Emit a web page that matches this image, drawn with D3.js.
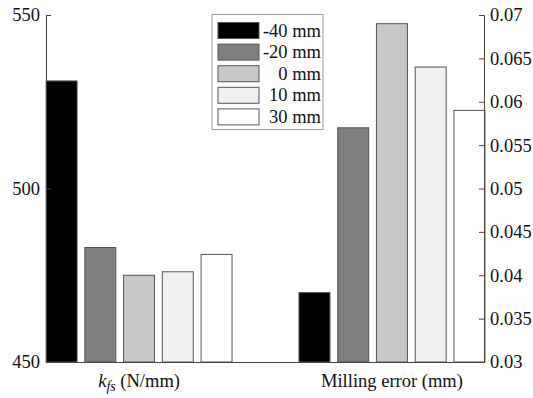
<!DOCTYPE html>
<html>
<head>
<meta charset="utf-8">
<script src="https://cdn.jsdelivr.net/npm/d3@7"></script>
<style>
body { margin: 0; background: #fff; }
text { font-family: "Liberation Serif", "Times New Roman", serif; }
</style>
</head>
<body>
<script>
var w = 533;
var h = 398;

// data
var offsets = ["-40 mm", "-20 mm", "0 mm", "10 mm", "30 mm"];
var fills = ["#000000", "#808080", "#c8c8c8", "#f0f0f0", "#ffffff"];
var kfsValues = [531, 483, 475, 476, 481];
var errorValues = [0.038, 0.057, 0.069, 0.064, 0.059];
var groupLabels = ["k_fs (N/mm)", "Milling error (mm)"];
var leftTicks = [450, 500, 550];
var rightTicks = [0.03, 0.035, 0.04, 0.045, 0.05, 0.055, 0.06, 0.065, 0.07];

var mLeft = 46, mRight = 484, mTop = 15, mBottom = 362;
var fs = "18.5px";

var svg = d3.select("body")
            .append("svg")
              .attr("width", w)
              .attr("height", h);

var x = d3.scaleLinear().domain([0.632, 2.364]).range([mLeft, mRight]);
var yL = d3.scaleLinear().domain([450, 550]).range([mBottom, mTop]);
var yR = d3.scaleLinear().domain([0.03, 0.07]).range([mBottom, mTop]);

var step = 0.1532;
var bw = 0.1225;

function barX(group, i) {
  return x(group + (i - 2) * step - bw / 2);
}
var bwPx = x(1 + bw) - x(1);

// left group
svg.selectAll(".kfs")
  .data(kfsValues)
  .enter()
  .append("rect")
    .attr("class", "kfs")
    .attr("x", function(d, i) { return barX(1, i); })
    .attr("y", function(d) { return yL(d); })
    .attr("width", bwPx)
    .attr("height", function(d) { return yL(450) - yL(d); })
    .style("fill", function(d, i) { return fills[i]; })
    .style("stroke", "#555")
    .style("stroke-width", 1);

// right group
svg.selectAll(".err")
  .data(errorValues)
  .enter()
  .append("rect")
    .attr("class", "err")
    .attr("x", function(d, i) { return barX(2, i); })
    .attr("y", function(d) { return yR(d); })
    .attr("width", bwPx)
    .attr("height", function(d) { return yR(0.03) - yR(d); })
    .style("fill", function(d, i) { return fills[i]; })
    .style("stroke", "#555")
    .style("stroke-width", 1);

// axes
var axisL = d3.axisLeft(yL).tickValues(leftTicks).tickSize(-5).tickPadding(6);
var axisR = d3.axisRight(yR).tickValues(rightTicks).tickSize(-5).tickPadding(6)
              .tickFormat(function(d) { return String(+d.toFixed(3)); });

var gL = svg.append("g").attr("transform", "translate(" + mLeft + ",0)").call(axisL);
var gR = svg.append("g").attr("transform", "translate(" + mRight + ",0)").call(axisR);

[gL, gR].forEach(function(g) {
  g.select(".domain").attr("stroke", "#444");
  g.selectAll(".tick line").attr("stroke", "#444");
  g.selectAll(".tick text")
    .style("font-size", fs)
    .style("font-family", "Liberation Serif, serif")
    .attr("fill", "#111");
});

svg.append("line")
  .attr("x1", mLeft).attr("x2", mRight)
  .attr("y1", mBottom + 0.5).attr("y2", mBottom + 0.5)
  .attr("stroke", "#444");

// x labels
var lab1 = svg.append("text")
  .attr("x", x(1)).attr("y", 387)
  .attr("text-anchor", "middle")
  .style("font-size", fs)
  .attr("fill", "#111");
lab1.append("tspan").style("font-style", "italic").text("k");
lab1.append("tspan").style("font-style", "italic").style("font-size", "14px")
  .attr("dy", 4).text("fs");
lab1.append("tspan").attr("dy", -4).text(" (N/mm)");

svg.append("text")
  .attr("x", x(2)).attr("y", 387)
  .attr("text-anchor", "middle")
  .style("font-size", fs)
  .attr("fill", "#111")
  .text(groupLabels[1]);

// legend
var leg = svg.append("g");
leg.append("rect")
  .attr("x", 212).attr("y", 14.5)
  .attr("width", 111).attr("height", 115)
  .style("fill", "#fff")
  .style("stroke", "#999");

var rows = leg.selectAll(".row")
  .data(offsets)
  .enter()
  .append("g")
    .attr("class", "row")
    .attr("transform", function(d, i) { return "translate(0," + (22.5 + i * 21.6) + ")"; });

rows.append("rect")
  .attr("x", 218).attr("y", 0)
  .attr("width", 41).attr("height", 16)
  .style("fill", function(d, i) { return fills[i]; })
  .style("stroke", "#555");

rows.append("text")
  .attr("x", 321).attr("y", 14)
  .attr("text-anchor", "end")
  .style("font-size", fs)
  .attr("fill", "#111")
  .text(function(d) { return d; });
</script>
</body>
</html>
